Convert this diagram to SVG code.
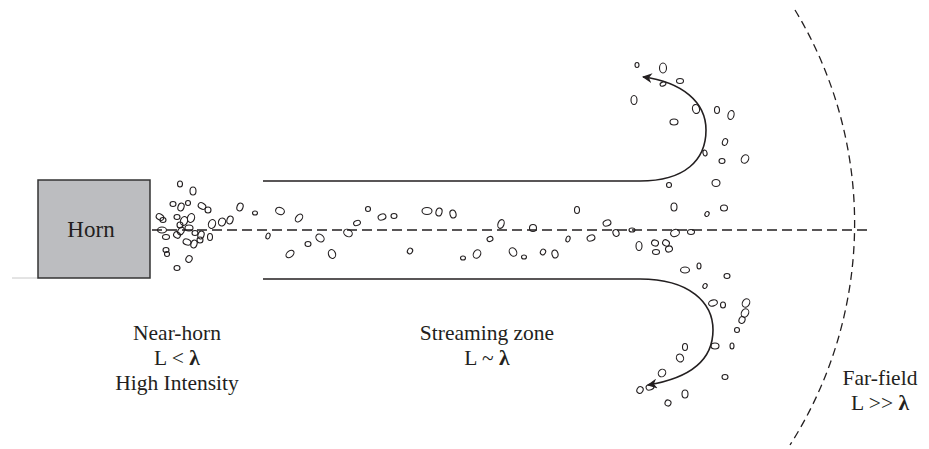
<svg xmlns="http://www.w3.org/2000/svg" width="929" height="449" viewBox="0 0 929 449">
  <defs>
    <style>
      .lbl { font-family: "Liberation Serif", "Times New Roman", serif; font-size: 21.5px; fill: #231f20; text-anchor: middle; }
      .flow { fill: none; stroke: #231f20; stroke-width: 1.6; }
      .axis { fill: none; stroke: #231f20; stroke-width: 1.3; stroke-dasharray: 10 5; }
      .far { fill: none; stroke: #231f20; stroke-width: 1.3; stroke-dasharray: 8 5; }
      .p { fill: none; stroke: #231f20; stroke-width: 1.1; }
    </style>
    <marker id="head" viewBox="0 0 10 10" refX="9" refY="5" markerWidth="10" markerHeight="10" markerUnits="userSpaceOnUse" orient="auto">
      <path d="M0,0 L10,5 L0,10 L3,5 Z" fill="#231f20"/>
    </marker>
  </defs>

  <rect width="929" height="449" fill="#ffffff"/>

  <!-- Horn -->
  <g id="horn">
    <line x1="12" y1="278" x2="38" y2="278" stroke="#c8c8c8" stroke-width="1"/>
    <rect x="38" y="180" width="112" height="98" fill="#bcbdc0" stroke="#333" stroke-width="1.5"/>
    <text class="lbl" x="91" y="237" style="font-size:23px">Horn</text>
  </g>

  <!-- Connectors: axis, streamlines, far-field boundary -->
  <g id="connectors">
    <line class="axis" x1="152" y1="230" x2="872" y2="230"/>
    <path class="flow" d="M263,181 L640,181 C685,181 706,160 706,130 C706,102 682,82 643,77" marker-end="url(#head)"/>
    <path class="flow" d="M263,279 L640,279 C690,279 713,303 713,330 C713,360 690,378 648,385" marker-end="url(#head)"/>
    <path class="far" d="M795,10 A412,412 0 0 1 790,445"/>
  </g>

  <!-- Particles near the horn mouth -->
  <g id="particles-near">
    <ellipse class="p" cx="180" cy="184" rx="2.5" ry="3"/>
    <ellipse class="p" cx="193" cy="191" rx="3" ry="4"/>
    <ellipse class="p" cx="173" cy="204" rx="3" ry="2.5"/>
    <ellipse class="p" cx="181" cy="207" rx="3" ry="4" transform="rotate(20 181 207)"/>
    <ellipse class="p" cx="188" cy="203" rx="2.5" ry="2.5"/>
    <ellipse class="p" cx="202" cy="206" rx="4" ry="3" transform="rotate(30 202 206)"/>
    <ellipse class="p" cx="208" cy="210" rx="3" ry="3"/>
    <ellipse class="p" cx="240" cy="207" rx="3" ry="4" transform="rotate(20 240 207)"/>
    <ellipse class="p" cx="255" cy="213" rx="2.5" ry="2"/>
    <ellipse class="p" cx="160" cy="217" rx="4" ry="3" transform="rotate(30 160 217)"/>
    <ellipse class="p" cx="163" cy="220" rx="3" ry="2.5"/>
    <ellipse class="p" cx="177" cy="217" rx="3" ry="2.5"/>
    <ellipse class="p" cx="184" cy="221" rx="3.5" ry="4.5" transform="rotate(20 184 221)"/>
    <ellipse class="p" cx="191" cy="218" rx="3.5" ry="4.5" transform="rotate(20 191 218)"/>
    <ellipse class="p" cx="180" cy="225" rx="3" ry="3"/>
    <ellipse class="p" cx="189" cy="228" rx="4" ry="3"/>
    <ellipse class="p" cx="212" cy="224" rx="3.5" ry="4.5" transform="rotate(20 212 224)"/>
    <ellipse class="p" cx="222" cy="222" rx="3.5" ry="4" transform="rotate(20 222 222)"/>
    <ellipse class="p" cx="230" cy="220" rx="3" ry="4" transform="rotate(20 230 220)"/>
    <ellipse class="p" cx="162" cy="230" rx="4.5" ry="3"/>
    <ellipse class="p" cx="166" cy="237" rx="3.5" ry="2.5"/>
    <ellipse class="p" cx="177" cy="235" rx="3.5" ry="3" transform="rotate(30 177 235)"/>
    <ellipse class="p" cx="181" cy="231" rx="3" ry="4" transform="rotate(30 181 231)"/>
    <ellipse class="p" cx="195" cy="233" rx="3" ry="2.5"/>
    <ellipse class="p" cx="201" cy="235" rx="3" ry="4" transform="rotate(20 201 235)"/>
    <ellipse class="p" cx="210" cy="237" rx="2.5" ry="3.5"/>
    <ellipse class="p" cx="187" cy="242" rx="4" ry="3" transform="rotate(20 187 242)"/>
    <ellipse class="p" cx="194" cy="244" rx="3" ry="4" transform="rotate(20 194 244)"/>
    <ellipse class="p" cx="200" cy="240" rx="3" ry="3"/>
    <ellipse class="p" cx="166" cy="250" rx="3" ry="2.5"/>
    <ellipse class="p" cx="167" cy="254" rx="2.5" ry="2.5"/>
    <ellipse class="p" cx="189" cy="259" rx="3" ry="3.5" transform="rotate(30 189 259)"/>
    <ellipse class="p" cx="177" cy="268" rx="3" ry="2.5"/>
  </g>

  <!-- Particles in the streaming zone -->
  <g id="particles-stream">
    <ellipse class="p" cx="280" cy="211" rx="4.5" ry="3.5" transform="rotate(20 280 211)"/>
    <ellipse class="p" cx="299" cy="218" rx="3" ry="4.5" transform="rotate(40 299 218)"/>
    <ellipse class="p" cx="268" cy="236" rx="2" ry="3" transform="rotate(20 268 236)"/>
    <ellipse class="p" cx="290" cy="254" rx="3" ry="4.5" transform="rotate(50 290 254)"/>
    <ellipse class="p" cx="308" cy="244" rx="3" ry="2.5"/>
    <ellipse class="p" cx="320" cy="238" rx="3.5" ry="4.5" transform="rotate(-50 320 238)"/>
    <ellipse class="p" cx="332" cy="254" rx="3.5" ry="4.5" transform="rotate(-20 332 254)"/>
    <ellipse class="p" cx="348" cy="233" rx="4.5" ry="3.5" transform="rotate(30 348 233)"/>
    <ellipse class="p" cx="357" cy="223" rx="3.5" ry="2.5" transform="rotate(-20 357 223)"/>
    <ellipse class="p" cx="368" cy="209" rx="2.5" ry="2.5"/>
    <ellipse class="p" cx="382" cy="217" rx="4" ry="3" transform="rotate(-20 382 217)"/>
    <ellipse class="p" cx="394" cy="216" rx="3" ry="2.5"/>
    <ellipse class="p" cx="410" cy="251" rx="2.5" ry="3" transform="rotate(30 410 251)"/>
    <ellipse class="p" cx="427" cy="211" rx="5" ry="3.5"/>
    <ellipse class="p" cx="439" cy="212" rx="3" ry="4" transform="rotate(15 439 212)"/>
    <ellipse class="p" cx="453" cy="214" rx="3" ry="4" transform="rotate(-15 453 214)"/>
    <ellipse class="p" cx="463" cy="258" rx="2.5" ry="2"/>
    <ellipse class="p" cx="477" cy="254" rx="3.5" ry="4.5" transform="rotate(30 477 254)"/>
    <ellipse class="p" cx="490" cy="239" rx="3" ry="2.5" transform="rotate(-20 490 239)"/>
    <ellipse class="p" cx="501" cy="224" rx="3" ry="4.5" transform="rotate(20 501 224)"/>
    <ellipse class="p" cx="513" cy="252" rx="3.5" ry="4.5" transform="rotate(-30 513 252)"/>
    <ellipse class="p" cx="524" cy="257" rx="2.5" ry="2"/>
    <ellipse class="p" cx="533" cy="228" rx="3.5" ry="3.5"/>
    <ellipse class="p" cx="543" cy="252" rx="2.5" ry="3" transform="rotate(30 543 252)"/>
    <ellipse class="p" cx="555" cy="254" rx="3" ry="4" transform="rotate(-15 555 254)"/>
    <ellipse class="p" cx="568" cy="239" rx="2" ry="3" transform="rotate(20 568 239)"/>
    <ellipse class="p" cx="577" cy="210" rx="2.5" ry="3.5"/>
    <ellipse class="p" cx="591" cy="238" rx="4" ry="3" transform="rotate(-20 591 238)"/>
    <ellipse class="p" cx="607" cy="223" rx="4" ry="3" transform="rotate(-20 607 223)"/>
    <ellipse class="p" cx="616" cy="233" rx="3" ry="3.5" transform="rotate(-20 616 233)"/>
    <ellipse class="p" cx="632" cy="230" rx="3" ry="2"/>
    <ellipse class="p" cx="639" cy="246" rx="3" ry="4.5"/>
    <ellipse class="p" cx="655" cy="243" rx="3.5" ry="3" transform="rotate(20 655 243)"/>
    <ellipse class="p" cx="656" cy="252" rx="3.5" ry="2.5"/>
    <ellipse class="p" cx="666" cy="243" rx="3.5" ry="3" transform="rotate(30 666 243)"/>
    <ellipse class="p" cx="669" cy="249" rx="3.5" ry="3" transform="rotate(-20 669 249)"/>
    <ellipse class="p" cx="675" cy="233" rx="4.5" ry="3.5" transform="rotate(-20 675 233)"/>
    <ellipse class="p" cx="691" cy="232" rx="3.5" ry="2.5"/>
  </g>

  <!-- Particles scattered in the upper turn -->
  <g id="particles-upper">
    <ellipse class="p" cx="637" cy="65" rx="2" ry="2.5"/>
    <ellipse class="p" cx="663" cy="68" rx="3.5" ry="5"/>
    <ellipse class="p" cx="680" cy="81" rx="3.5" ry="2.5"/>
    <ellipse class="p" cx="663" cy="84" rx="3" ry="2" transform="rotate(-20 663 84)"/>
    <ellipse class="p" cx="634" cy="100" rx="3" ry="4.5"/>
    <ellipse class="p" cx="696" cy="109" rx="3.5" ry="4.5" transform="rotate(-15 696 109)"/>
    <ellipse class="p" cx="717" cy="110" rx="2.5" ry="3.5"/>
    <ellipse class="p" cx="731" cy="115" rx="3" ry="4.5" transform="rotate(15 731 115)"/>
    <ellipse class="p" cx="674" cy="122" rx="4" ry="3"/>
    <ellipse class="p" cx="725" cy="142" rx="2.5" ry="3.5" transform="rotate(20 725 142)"/>
    <ellipse class="p" cx="705" cy="153" rx="2" ry="3" transform="rotate(-15 705 153)"/>
    <ellipse class="p" cx="722" cy="161" rx="3" ry="2.5"/>
    <ellipse class="p" cx="745" cy="159" rx="3.5" ry="4.5" transform="rotate(30 745 159)"/>
    <ellipse class="p" cx="669" cy="185" rx="2.5" ry="2.5"/>
    <ellipse class="p" cx="716" cy="183" rx="4" ry="3.5"/>
    <ellipse class="p" cx="674" cy="207" rx="3" ry="4"/>
    <ellipse class="p" cx="724" cy="208" rx="3.5" ry="3"/>
    <ellipse class="p" cx="707" cy="214" rx="2" ry="2.5" transform="rotate(30 707 214)"/>
  </g>

  <!-- Particles scattered in the lower turn -->
  <g id="particles-lower">
    <ellipse class="p" cx="685" cy="270" rx="4.5" ry="3"/>
    <ellipse class="p" cx="699" cy="266" rx="2" ry="3"/>
    <ellipse class="p" cx="727" cy="276" rx="3" ry="2.5"/>
    <ellipse class="p" cx="705" cy="286" rx="2" ry="2.5" transform="rotate(30 705 286)"/>
    <ellipse class="p" cx="713" cy="303" rx="4.5" ry="3" transform="rotate(-15 713 303)"/>
    <ellipse class="p" cx="723" cy="305" rx="2.5" ry="3"/>
    <ellipse class="p" cx="746" cy="303" rx="3.5" ry="4.5" transform="rotate(30 746 303)"/>
    <ellipse class="p" cx="745" cy="313" rx="3.5" ry="4.5" transform="rotate(30 745 313)"/>
    <ellipse class="p" cx="742" cy="320" rx="3" ry="3.5" transform="rotate(20 742 320)"/>
    <ellipse class="p" cx="737" cy="330" rx="2.5" ry="2.5"/>
    <ellipse class="p" cx="732" cy="346" rx="2" ry="3"/>
    <ellipse class="p" cx="715" cy="346" rx="4" ry="3"/>
    <ellipse class="p" cx="685" cy="347" rx="2.5" ry="3.5"/>
    <ellipse class="p" cx="680" cy="358" rx="3.5" ry="4" transform="rotate(-30 680 358)"/>
    <ellipse class="p" cx="725" cy="377" rx="3" ry="2.5"/>
    <ellipse class="p" cx="662" cy="373" rx="3.5" ry="4" transform="rotate(40 662 373)"/>
    <ellipse class="p" cx="650" cy="387" rx="4" ry="3" transform="rotate(-20 650 387)"/>
    <ellipse class="p" cx="640" cy="390" rx="3" ry="3.5" transform="rotate(30 640 390)"/>
    <ellipse class="p" cx="685" cy="394" rx="3" ry="4"/>
    <ellipse class="p" cx="668" cy="403" rx="3" ry="3" transform="rotate(20 668 403)"/>
  </g>

  <!-- Zone labels -->
  <g id="near-horn">
    <text class="lbl" x="177" y="340">Near-horn</text>
    <text class="lbl" x="177" y="365">L &lt; <tspan font-weight="bold">λ</tspan></text>
    <text class="lbl" x="177" y="390">High Intensity</text>
  </g>
  <g id="streaming-zone">
    <text class="lbl" x="487" y="340">Streaming zone</text>
    <text class="lbl" x="487" y="365">L ~ <tspan font-weight="bold">λ</tspan></text>
  </g>
  <g id="far-field">
    <text class="lbl" x="880" y="385">Far-field</text>
    <text class="lbl" x="880" y="410">L &gt;&gt; <tspan font-weight="bold">λ</tspan></text>
  </g>
</svg>
